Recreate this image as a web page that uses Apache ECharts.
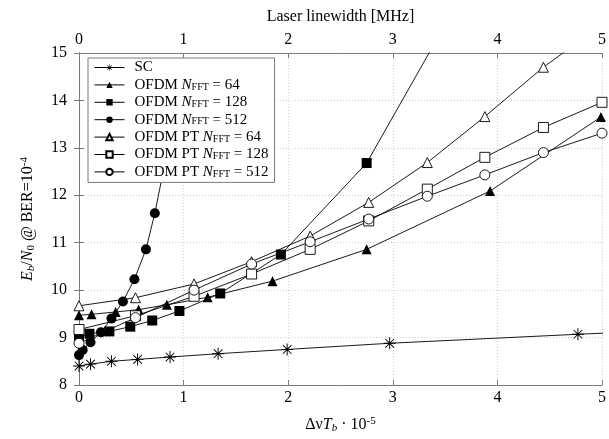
<!DOCTYPE html>
<html>
<head>
<meta charset="utf-8">
<script src="https://cdn.jsdelivr.net/npm/echarts@6/dist/echarts.min.js"></script>
<style>
  html, body { margin: 0; padding: 0; background: #fff; }
  #chart { width: 609px; height: 439px; }
</style>
</head>
<body>
<div id="chart"></div>
<script>
var seriesNames = ['SC', 'OFDM NFFT = 64', 'OFDM NFFT = 128', 'OFDM NFFT = 512',
  'OFDM PT NFFT = 64', 'OFDM PT NFFT = 128', 'OFDM PT NFFT = 512'];
var xTicks = [0, 1, 2, 3, 4, 5];

// points past the frame are clipped like the original
var scX = [0, 0.11, 0.31, 0.56, 0.87, 1.33, 1.99, 2.97, 4.77, 5.95];
var scY = [8.40, 8.44, 8.50, 8.54, 8.59, 8.66, 8.75, 8.88, 9.07, 9.18];

var ofdm64X = [0, 0.12, 0.35, 0.57, 0.84, 1.23, 1.85, 2.75, 3.93, 4.99];
var ofdm64Y = [9.47, 9.49, 9.54, 9.59, 9.69, 9.85, 10.19, 10.86, 12.09, 13.65];

var ofdm128X = [0, 0.10, 0.29, 0.49, 0.70, 0.96, 1.35, 1.93, 2.75, 3.90];
var ofdm128Y = [9.00, 9.08, 9.13, 9.23, 9.36, 9.56, 9.93, 10.75, 12.68, 17.15];

var ofdm512X = [0, 0.035, 0.11, 0.21, 0.31, 0.42, 0.53, 0.64, 0.725, 0.795];
var ofdm512Y = [8.63, 8.74, 8.90, 9.11, 9.40, 9.76, 10.23, 10.86, 11.62, 12.39];

var pt64X = [0, 0.54, 1.10, 1.65, 2.21, 2.77, 3.33, 3.88, 4.44, 5.0];
var pt64Y = [9.67, 9.84, 10.13, 10.6, 11.14, 11.85, 12.69, 13.66, 14.70, 15.6];

var pt128X = [0, 0.54, 1.10, 1.65, 2.21, 2.77, 3.33, 3.88, 4.44, 5.0];
var pt128Y = [9.17, 9.46, 9.87, 10.34, 10.86, 11.46, 12.13, 12.80, 13.43, 13.96];

var pt512X = [0, 0.54, 1.10, 1.65, 2.21, 2.77, 3.33, 3.88, 4.44, 5.0];
var pt512Y = [8.88, 9.42, 10.0, 10.55, 11.02, 11.50, 11.98, 12.43, 12.90, 13.31];

function pairs(xs, ys) {
  var res = [];
  for (var i = 0; i < xs.length; i++) {
    res.push([xs[i], ys[i]]);
  }
  return res;
}

var serif = 'Liberation Serif';
var asterisk = 'path://M0 9.2L20 9.2L20 10.8L0 10.8Z' +
  'M9.2 0L10.8 0L10.8 20L9.2 20Z' +
  'M2.3 3.4L3.4 2.3L17.7 16.6L16.6 17.7Z' +
  'M16.6 2.3L17.7 3.4L3.4 17.7L2.3 16.6Z';

// open = white fill with a thin black outline
function mkSeries(name, xs, ys, symbol, size, open) {
  return {
    name: name,
    type: 'line',
    data: pairs(xs, ys),
    symbol: symbol,
    symbolSize: size,
    clip: true,
    color: '#000',
    lineStyle: { color: '#000', width: 0.9 },
    itemStyle: open
      ? { color: '#fff', borderColor: '#000', borderWidth: 0.9 }
      : { color: '#000', borderColor: '#000', borderWidth: 0 },
    emphasis: { disabled: true },
    z: open ? 3 : 2
  };
}

var rich = {
  t: { fontFamily: serif, fontSize: 15, lineHeight: 14, color: '#000' },
  f: { fontFamily: serif, fontSize: 15, lineHeight: 14, color: '#000', padding: [0, 0, 0, 5] },
  i: { fontFamily: serif, fontSize: 15, lineHeight: 14, fontStyle: 'italic', color: '#000' },
  s: { fontFamily: serif, fontSize: 10, lineHeight: 3, verticalAlign: 'bottom', color: '#000' }
};

var nameRich = {
  t: { fontFamily: serif, fontSize: 16, lineHeight: 18, color: '#000' },
  i: { fontFamily: serif, fontSize: 16, lineHeight: 18, fontStyle: 'italic', color: '#000' },
  sb: { fontFamily: serif, fontSize: 11, lineHeight: 3, verticalAlign: 'bottom', color: '#000' },
  si: { fontFamily: serif, fontSize: 11, lineHeight: 3, verticalAlign: 'bottom', fontStyle: 'italic', color: '#000' },
  sp: { fontFamily: serif, fontSize: 11, lineHeight: 3, verticalAlign: 'top', color: '#000' }
};

var frame = { show: true, lineStyle: { color: '#7a7a7a', width: 1 } };
var ticks = { show: true, inside: true, length: 5, lineStyle: { color: '#7a7a7a' } };
var grid = { show: true, lineStyle: { color: '#cfcfcf', type: [1, 2], width: 1 } };
var labelStyle = { fontFamily: serif, fontSize: 16, color: '#000' };

var myChart = echarts.init(document.getElementById('chart'));

var option = {
  animation: false,
  backgroundColor: '#fff',
  grid: { left: 79, right: 6, top: 53, bottom: 54 },
  legend: {
    orient: 'vertical',
    left: 88,
    top: 58,
    padding: [2, 6, 3, 6],
    itemGap: 2.4,
    itemWidth: 30,
    itemHeight: 8,
    backgroundColor: '#fff',
    borderColor: '#7a7a7a',
    borderWidth: 1,
    borderRadius: 0,
    data: seriesNames,
    lineStyle: { width: 1 },
    formatter: function (name) {
      var parts = name.split('NFFT');
      if (parts.length < 2) {
        return '{f|' + name + '}';
      }
      return '{f|' + parts[0] + '}{i|N}{s|FFT}{t|' + parts[1] + '}';
    },
    textStyle: { rich: rich }
  },
  xAxis: [
    {
      type: 'value', position: 'bottom', min: 0, max: 5, interval: 1,
      axisLine: frame, axisTick: ticks, splitLine: grid,
      axisLabel: Object.assign({ margin: 5, formatter: function (v) { return xTicks.indexOf(v) >= 0 ? v : ''; } }, labelStyle),
      name: '{t|Δν}{i|T}{si|b}{t| · 10}{sp|-5}',
      nameLocation: 'middle', nameGap: 31,
      nameTextStyle: { rich: nameRich }
    },
    {
      type: 'value', position: 'top', min: 0, max: 5, interval: 1,
      axisLine: frame, axisTick: ticks, splitLine: { show: false },
      axisLabel: Object.assign({ margin: 5 }, labelStyle),
      name: 'Laser linewidth [MHz]',
      nameLocation: 'middle', nameGap: 28,
      nameTextStyle: { fontFamily: serif, fontSize: 16, color: '#000' }
    }
  ],
  yAxis: [
    {
      type: 'value', position: 'left', min: 8, max: 15, interval: 1,
      axisLine: frame, axisTick: ticks, splitLine: grid,
      axisLabel: Object.assign({ margin: 12 }, labelStyle),
      name: '{i|E}{si|b}{t|/}{i|N}{sb|0}{t| @ BER=10}{sp|-4}',
      nameLocation: 'middle', nameGap: 42, nameRotate: 90,
      nameTextStyle: { rich: nameRich }
    },
    {
      type: 'value', position: 'right', min: 8, max: 15, interval: 1,
      axisLine: frame, axisTick: ticks, splitLine: { show: false },
      axisLabel: { show: false }
    }
  ],
  series: [
    mkSeries(seriesNames[0], scX, scY, asterisk, 12, false),
    mkSeries(seriesNames[1], ofdm64X, ofdm64Y, 'triangle', 10, false),
    mkSeries(seriesNames[2], ofdm128X, ofdm128Y, 'rect', 10, false),
    mkSeries(seriesNames[3], ofdm512X, ofdm512Y, 'circle', 10, false),
    mkSeries(seriesNames[4], pt64X, pt64Y, 'triangle', 10, true),
    mkSeries(seriesNames[5], pt128X, pt128Y, 'rect', 10, true),
    mkSeries(seriesNames[6], pt512X, pt512Y, 'circle', 10, true)
  ]
};

myChart.setOption(option);
</script>
</body>
</html>
